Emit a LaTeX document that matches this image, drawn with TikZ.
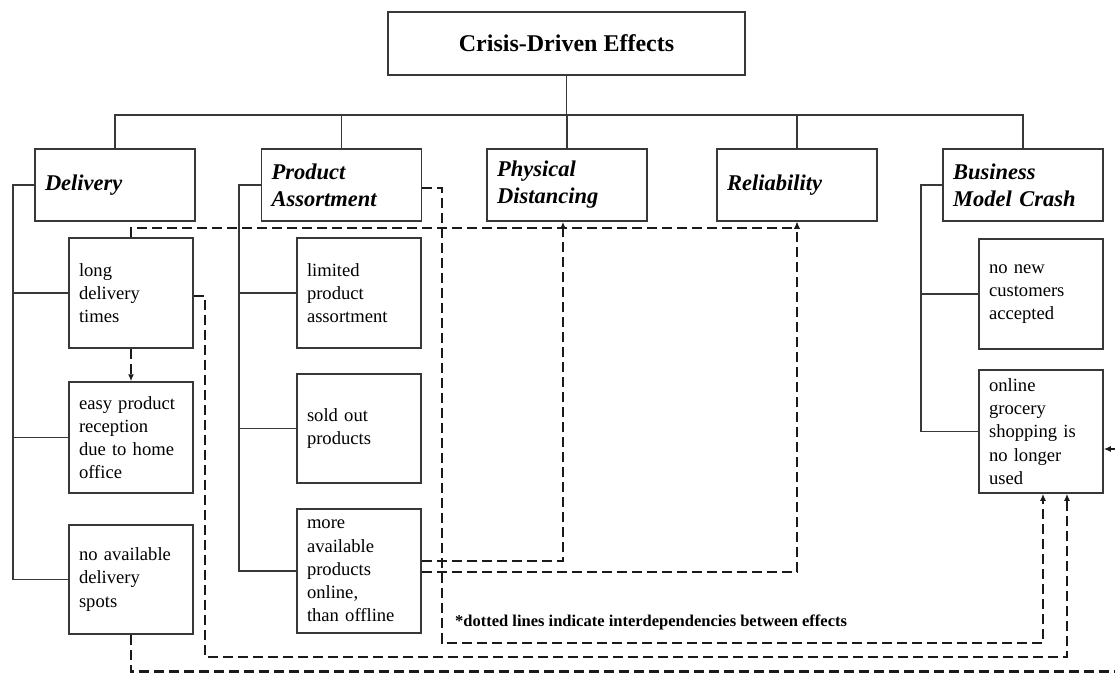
\documentclass[tikz,border=0pt]{standalone}
\usepackage{fontspec}
\setmainfont{Liberation Serif}
\usetikzlibrary{arrows.meta}
\definecolor{edge}{HTML}{383838}
\definecolor{depc}{HTML}{1A1A1A}
\begin{document}
\begin{tikzpicture}[x=1pt,y=-1pt,
  box/.style={draw=edge, line width=1.5pt, inner xsep=10pt, inner ysep=0pt, align=left, text=black},
  head/.style={box, text width=140pt, minimum height=72pt, font=\fontsize{22.5}{27}\selectfont\bfseries\itshape},
  leaf/.style={box, text width=104pt, font=\fontsize{18.6}{23.2}\selectfont},
  tree/.style={draw=edge, line width=1.5pt},
  depline/.style={draw=depc, line width=2.1pt, dash pattern=on 10pt off 5pt, -{Latex[length=7pt,width=6pt]}},
]
\useasboundingbox (0,0) rectangle (1115,672);

% root
\node[draw=edge, line width=1.5pt, minimum width=357pt, minimum height=63pt, inner sep=0pt,
      font=\fontsize{24}{28}\selectfont\bfseries] (top) at (566.5,43.5) {Crisis-Driven Effects};

% effect categories
\node[head] (del) at (115,185)   {Delivery};
\node[head] (pa)  at (341.5,185) {Product\\Assortment};
\node[head] (pd)  at (567,185)   {Physical\\Distancing};
\node[head] (rel) at (797,185)   {Reliability};
\node[head] (bmc) at (1023,185)  {Business\\Model Crash};

% individual effects
\node[leaf, minimum height=110pt] (ldt) at (131,293)   {long\\delivery\\times};
\node[leaf, minimum height=111pt] (epr) at (131,437.5) {easy product\\reception\\due to home\\office};
\node[leaf, minimum height=109pt] (nad) at (131,579.5) {no available\\delivery\\spots};
\node[leaf, minimum height=110pt] (lpa) at (359,293)   {limited\\product\\assortment};
\node[leaf, minimum height=109pt] (sop) at (359,428.5) {sold out\\products};
\node[leaf, minimum height=124pt] (map) at (359,571)   {more\\available\\products\\online,\\than offline};
\node[leaf, minimum height=110pt] (nnc) at (1041,294)  {no new\\customers\\accepted};
\node[leaf, minimum height=123pt] (ogs) at (1041,431.5){online\\grocery\\shopping is\\no longer\\used};

% hierarchy lines
\coordinate (bus) at (0,115);
\draw[tree] (top.south) -- (top.south |- bus);
\draw[tree] (del.north) |- (bmc.north |- bus) -- (bmc.north);
\foreach \n in {pa,pd,rel} \draw[tree] (\n.north) -- (\n.north |- bus);

\coordinate (dsp) at (13,0);
\coordinate (psp) at (239,0);
\coordinate (bsp) at (921,0);
\draw[tree] (del.west) -| (dsp |- nad.west) -- (nad.west);
\draw[tree] (ldt.west) -- (ldt.west -| dsp);
\draw[tree] (epr.west) -- (epr.west -| dsp);
\draw[tree] (pa.west) -| (psp |- map.west) -- (map.west);
\draw[tree] (lpa.west) -- (lpa.west -| psp);
\draw[tree] (sop.west) -- (sop.west -| psp);
\draw[tree] (bmc.west) -| (bsp |- ogs.west) -- (ogs.west);
\draw[tree] (nnc.west) -- (nnc.west -| bsp);

% interdependencies
\coordinate (laneA) at (442,643);
\coordinate (laneB) at (205,657);
\coordinate (laneC) at (1117,671.5);
\draw[depline] (ldt.south) -- (epr.north);
\draw[depline] (ldt.north) -- ++(0,-9) -| (rel.south);
\draw[depline] ([yshift=10pt]map.east) -| ([xshift=-4pt]pd.south);
\draw[depline] ([yshift=-1pt]map.east) -| (rel.south);
\draw[depline] ([yshift=-3pt]pa.east) -| (laneA) -| ([xshift=2pt]ogs.south);
\draw[depline] ([yshift=-3pt]ldt.east) -| (laneB) -| ([xshift=26pt]ogs.south);
\draw[depline] (nad.south) |- (laneC) |- ([yshift=-17.5pt]ogs.east);

\node[anchor=west, inner sep=0pt, font=\fontsize{16.5}{20}\selectfont\bfseries] (note) at (455,622)
  {*dotted lines indicate interdependencies between effects};
\end{tikzpicture}
\end{document}
